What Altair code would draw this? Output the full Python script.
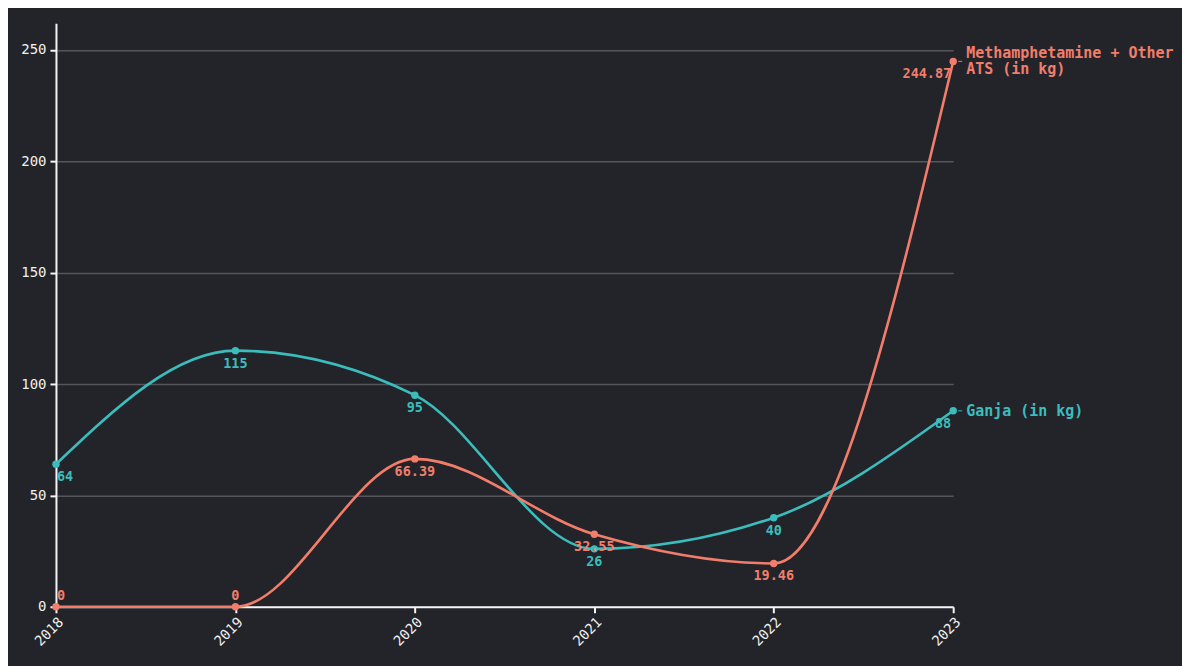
import altair as alt
import pandas as pd

years = [2018, 2019, 2020, 2021, 2022, 2023]
ganja = [64, 115, 95, 26, 40, 88]
meth = [0, 0, 66.39, 32.55, 19.46, 244.87]
series_names = ["Ganja (in kg)", "Methamphetamine + Other ATS (in kg)"]
series_labels = ["Ganja (in kg)", "Methamphetamine + Other\nATS (in kg)"]
series_colors = ["#3BBDBD", "#F27D6B"]

rows = []
for name, lab, vals in zip(series_names, series_labels, [ganja, meth]):
    for y, v in zip(years, vals):
        rows.append({"year": y, "value": v, "series": name, "label": lab,
                     "txt": f"{v:g}", "nlines": lab.count("\n") + 1})
df = pd.DataFrame(rows)

FONT = "DejaVu Sans Mono"
BG = "#232429"

x = alt.X("year:Q", scale=alt.Scale(domain=[2018, 2023], nice=False),
          axis=alt.Axis(values=years, format="d", labelAngle=-45, title=None,
                        grid=False, domainColor="#f4f4f4", tickColor="#f4f4f4",
                        labelColor="#f0f0f0", labelFontSize=14, labelFont=FONT,
                        tickSize=6, domainWidth=2, tickWidth=2))
y = alt.Y("value:Q", scale=alt.Scale(domain=[0, 262], nice=False),
          axis=alt.Axis(values=[0, 50, 100, 150, 200, 250], title=None,
                        grid=True, gridColor="#55565c", gridWidth=1.5,
                        domainColor="#f4f4f4", tickColor="#f4f4f4",
                        labelColor="#f0f0f0", labelFontSize=14, labelFont=FONT,
                        tickSize=6, domainWidth=2, tickWidth=2, labelPadding=4))
color = alt.Color("series:N", scale=alt.Scale(domain=series_names, range=series_colors),
                  legend=None)

base = alt.Chart(df).encode(x=x, y=y, color=color)

lines = base.mark_line(interpolate="monotone", strokeWidth=2.6)
points = base.mark_circle(size=55, opacity=1)

def lab(filt, align, dx, dy):
    return base.transform_filter(filt).mark_text(
        align=align, dx=dx, dy=dy, baseline="middle", font=FONT,
        fontSize=13.5, fontWeight="bold").encode(text="txt:N")

labels = [
    lab("datum.year == 2018 && datum.value == 0", "left", 1, -11),
    lab("datum.year == 2018 && datum.value != 0", "left", 1, 13),
    lab("datum.year > 2018 && datum.year < 2023 && datum.value == 0", "center", 0, -11),
    lab("datum.year > 2018 && datum.year < 2023 && datum.value != 0", "center", 0, 13),
    lab("datum.year == 2023", "right", -2, 13),
]

end = base.transform_filter("datum.year == 2023")
ticks = end.mark_rule(xOffset=5, x2Offset=9, strokeWidth=1.2, opacity=0.8).encode(
    x2=alt.X2("year"))
names_single = end.transform_filter("datum.nlines == 1").mark_text(
    align="left", dx=13, baseline="middle", font=FONT, fontSize=15,
    fontWeight="bold").encode(text="label:N")
names_double = end.transform_filter("datum.nlines == 2").mark_text(
    align="left", dx=13, dy=-8, baseline="middle", font=FONT, fontSize=15,
    fontWeight="bold", lineBreak="\n", lineHeight=16).encode(text="label:N")

chart = alt.layer(lines, points, *labels, ticks, names_single, names_double).properties(
    width=898, height=584, background=BG,
    padding={"left": 12, "top": 15, "right": 8, "bottom": 20}
).configure_view(stroke=None)

chart.save("out.html", embed_options={"renderer": "svg", "actions": False})
